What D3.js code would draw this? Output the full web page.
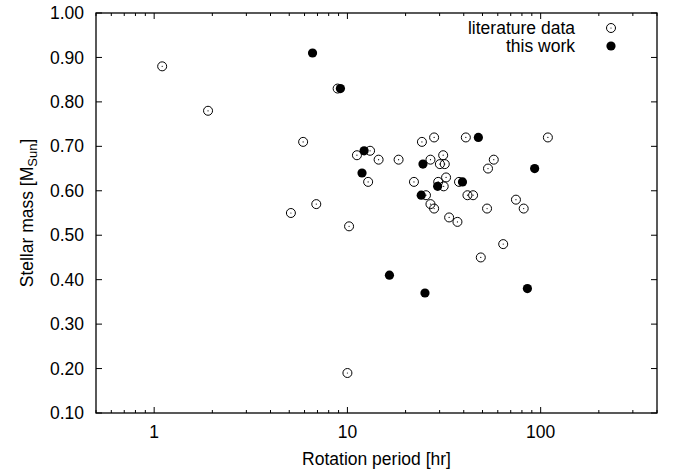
<!DOCTYPE html>
<html>
<head>
<meta charset="utf-8">
<script src="https://cdn.jsdelivr.net/npm/d3@7"></script>
<style>
  body { margin: 0; background: #fff; }
  svg { font-family: "Liberation Sans", Arial, sans-serif; }
</style>
</head>
<body>
<script>
// literature data (open circles)
const litPeriod = [1.10, 1.90, 5.9, 6.9, 5.1, 8.9, 10.2, 10.0, 49, 64, 11.2, 13.1, 14.5, 12.8, 18.4, 22.1, 24.3, 28.1, 26.9, 31.3,
  30.1, 31.9, 32.4, 29.5, 31.5, 25.5, 26.9, 28.1, 33.6, 37.1, 37.8, 41, 41.8, 44.7, 53.4, 57.2, 52.8, 109, 74.5, 81.7]
const litMass = [0.88, 0.78, 0.71, 0.57, 0.55, 0.83, 0.52, 0.19, 0.45, 0.48, 0.68, 0.69, 0.67, 0.62, 0.67, 0.62, 0.71, 0.72, 0.67, 0.68,
  0.66, 0.66, 0.63, 0.62, 0.61, 0.59, 0.57, 0.56, 0.54, 0.53, 0.62, 0.72, 0.59, 0.59, 0.65, 0.67, 0.56, 0.72, 0.58, 0.56]

// this work (filled circles)
const workPeriod = [6.6, 9.2, 16.5, 25.2, 85.4, 12.2, 11.9, 24.6, 29.3, 24.1, 39.4, 47.6, 93.1]
const workMass = [0.91, 0.83, 0.41, 0.37, 0.38, 0.69, 0.64, 0.66, 0.61, 0.59, 0.62, 0.72, 0.65]

const yTicks = [0.1, 0.2, 0.3, 0.4, 0.5, 0.6, 0.7, 0.8, 0.9, 1.0]
const xMajor = [1, 10, 100]

const W = 678, H = 472
const m = { left: 96, top: 13, right: 21, bottom: 59 }
const iw = W - m.left - m.right, ih = H - m.top - m.bottom
const fs = 17.5

const svg = d3.select("body").append("svg").attr("width", W).attr("height", H)
const g = svg.append("g").attr("transform", `translate(${m.left},${m.top})`)

const x = d3.scaleLog().domain([0.5, 400]).range([0, iw])
const y = d3.scaleLinear().domain([0.1, 1.0]).range([ih, 0])

const xAll = x.ticks().filter(t => t >= 0.5 && t <= 400)
const isMajor = t => xMajor.includes(t)

// ticks on all four sides, pointing inward
function xTicks(yPos, dir) {
  g.selectAll(null).data(xAll).enter().append("line")
    .attr("x1", d => x(d)).attr("x2", d => x(d))
    .attr("y1", yPos).attr("y2", d => yPos + dir * (isMajor(d) ? 6 : 3))
    .attr("stroke", "#000").attr("stroke-width", 1)
}
xTicks(ih, -1)
xTicks(0, 1)

function yTickLines(xPos, dir) {
  g.selectAll(null).data(yTicks).enter().append("line")
    .attr("x1", xPos).attr("x2", xPos + dir * 6)
    .attr("y1", d => y(d)).attr("y2", d => y(d))
    .attr("stroke", "#000").attr("stroke-width", 1)
}
yTickLines(0, 1)
yTickLines(iw, -1)

g.append("rect").attr("width", iw).attr("height", ih)
  .attr("fill", "none").attr("stroke", "#000").attr("stroke-width", 1.3)

// tick labels
g.selectAll(null).data(yTicks).enter().append("text")
  .attr("x", -12).attr("y", d => y(d)).attr("dy", "0.35em")
  .attr("text-anchor", "end").attr("font-size", fs)
  .text(d => d3.format(".2f")(d))

g.selectAll(null).data(xMajor).enter().append("text")
  .attr("x", d => x(d)).attr("y", ih + 25)
  .attr("text-anchor", "middle").attr("font-size", fs)
  .text(d => d)

// axis titles
svg.append("text").attr("x", m.left + iw / 2).attr("y", 465)
  .attr("text-anchor", "middle").attr("font-size", fs)
  .text("Rotation period [hr]")

const yl = svg.append("text")
  .attr("transform", `translate(33,${m.top + ih / 2}) rotate(-90)`)
  .attr("text-anchor", "middle").attr("font-size", fs)
yl.append("tspan").text("Stellar mass [M")
yl.append("tspan").attr("font-size", 13).attr("dy", 4).text("Sun")
yl.append("tspan").attr("dy", -4).text("]")

// points
const lit = litPeriod.map((p, i) => ({ p, m: litMass[i] }))
const work = workPeriod.map((p, i) => ({ p, m: workMass[i] }))

function openPt(sel) {
  sel.append("circle").attr("r", 4.5).attr("fill", "none").attr("stroke", "#000").attr("stroke-width", 1)
  sel.append("circle").attr("r", 0.6).attr("fill", "#000")
}

const lp = g.selectAll(".lit").data(lit).enter().append("g")
  .attr("transform", d => `translate(${x(d.p)},${y(d.m)})`)
openPt(lp)

g.selectAll(".work").data(work).enter().append("circle")
  .attr("cx", d => x(d.p)).attr("cy", d => y(d.m)).attr("r", 4.6).attr("fill", "#000")

// legend
const lg = svg.append("g")
lg.append("text").attr("x", 575).attr("y", 28).attr("dy", "0.35em")
  .attr("text-anchor", "end").attr("font-size", fs).text("literature data")
lg.append("text").attr("x", 575).attr("y", 46).attr("dy", "0.35em")
  .attr("text-anchor", "end").attr("font-size", fs).text("this work")
openPt(lg.append("g").attr("transform", "translate(611,28)"))
lg.append("circle").attr("cx", 611).attr("cy", 46).attr("r", 4.6).attr("fill", "#000")
</script>
</body>
</html>
